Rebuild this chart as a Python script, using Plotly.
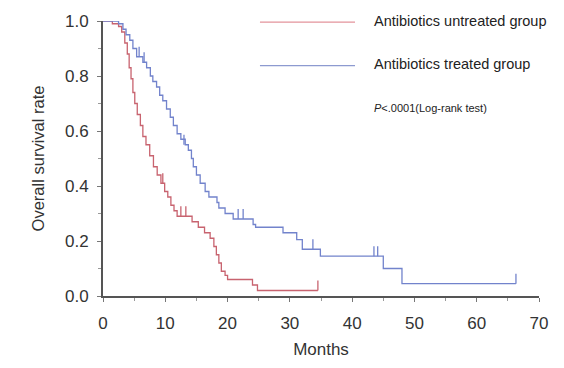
import plotly.graph_objects as go

# Kaplan-Meier step data (time in months, survival after each step)
untreated_t = [0, 1.5, 2.5, 3.0, 3.5, 3.9, 4.2, 4.5, 4.8, 5.1, 5.5, 6.0, 6.4, 6.9, 7.5,
               8.1, 8.7, 9.3, 9.9, 10.4, 10.9, 11.4, 11.9, 14.3, 15.3, 16.3, 17.2,
               17.8, 18.2, 18.6, 19.0, 19.6, 20.0, 24.0, 24.8, 34.5]
untreated_s = [1.0, 0.99, 0.98, 0.96, 0.92, 0.88, 0.83, 0.79, 0.74, 0.70, 0.66, 0.62,
               0.58, 0.55, 0.51, 0.47, 0.44, 0.41, 0.38, 0.36, 0.33, 0.31, 0.29, 0.27,
               0.25, 0.23, 0.21, 0.18, 0.15, 0.12, 0.09, 0.075, 0.06, 0.04, 0.02, 0.02]

treated_t = [0, 2.5, 3.2, 3.7, 4.3, 4.8, 5.4, 6.4, 7.0, 7.6, 8.0, 8.6, 9.1, 9.6, 10.2,
             10.8, 11.3, 11.9, 12.5, 13.2, 13.7, 14.2, 14.5, 15.0, 15.6, 16.4, 17.0,
             18.3, 18.6, 19.6, 20.9, 24.1, 24.5, 28.9, 31.1, 32.0, 34.9, 45.0, 48.0, 66.3]
treated_s = [1.0, 0.99, 0.97, 0.95, 0.93, 0.90, 0.87, 0.85, 0.83, 0.80, 0.78, 0.76, 0.73,
             0.71, 0.68, 0.65, 0.62, 0.59, 0.57, 0.55, 0.53, 0.50, 0.47, 0.44, 0.41, 0.38,
             0.36, 0.34, 0.32, 0.30, 0.28, 0.26, 0.25, 0.23, 0.205, 0.17, 0.145, 0.10,
             0.045, 0.045]

# Censored observations
untreated_cens_t = [9.6, 12.5, 13.3, 34.5]
untreated_cens_s = [0.41, 0.29, 0.29, 0.02]
treated_cens_t = [5.8, 6.6, 13.0, 21.7, 22.5, 33.7, 43.5, 44.1, 66.3]
treated_cens_s = [0.87, 0.85, 0.55, 0.28, 0.28, 0.17, 0.145, 0.145, 0.045]

x_ticks = [0, 10, 20, 30, 40, 50, 60, 70]
y_ticks = [0.0, 0.2, 0.4, 0.6, 0.8, 1.0]

RED = "#c8636f"
BLUE = "#7283cc"
CENS_H = 0.036

fig = go.Figure()
fig.add_trace(go.Scatter(x=untreated_t, y=untreated_s, mode="lines",
                         line=dict(color=RED, width=1.3, shape="hv"), showlegend=False))
fig.add_trace(go.Scatter(x=treated_t, y=treated_s, mode="lines",
                         line=dict(color=BLUE, width=1.3, shape="hv"), showlegend=False))
for ct, cs, col in [(untreated_cens_t, untreated_cens_s, RED),
                    (treated_cens_t, treated_cens_s, BLUE)]:
    fig.add_trace(go.Scatter(
        x=ct, y=cs, mode="markers",
        marker=dict(size=1, color="rgba(0,0,0,0)"),
        error_y=dict(type="data", symmetric=False, array=[CENS_H] * len(ct),
                     arrayminus=[0] * len(ct), width=0, thickness=1.3, color=col),
        showlegend=False, hoverinfo="skip"))

FONT = "Arial, Liberation Sans, sans-serif"

# Legend drawn manually (long sample lines as in the original)
fig.add_shape(type="line", xref="paper", yref="paper", x0=0.360, x1=0.578, y0=0.996, y1=0.996,
              line=dict(color="#e3939b", width=1.3))
fig.add_shape(type="line", xref="paper", yref="paper", x0=0.360, x1=0.578, y0=0.838, y1=0.838,
              line=dict(color="#8d9ad0", width=1.3))
fig.add_annotation(xref="paper", yref="paper", x=0.617, y=1.0, xanchor="left", yanchor="middle",
                   text="Antibiotics untreated group", showarrow=False,
                   font=dict(family=FONT, size=14.5, color="#222"))
fig.add_annotation(xref="paper", yref="paper", x=0.617, y=0.845, xanchor="left", yanchor="middle",
                   text="Antibiotics treated group", showarrow=False,
                   font=dict(family=FONT, size=14.5, color="#222"))
fig.add_annotation(xref="paper", yref="paper", x=0.617, y=0.683, xanchor="left", yanchor="middle",
                   text="<i>P</i><.0001(Log-rank test)", showarrow=False,
                   font=dict(family=FONT, size=11, color="#222"))

axis_common = dict(showgrid=False, zeroline=False, showline=True, linecolor="#555", linewidth=2,
                   ticks="outside", ticklen=4, tickwidth=1, tickcolor="#777",
                   tickfont=dict(family=FONT, size=17, color="#333"))

fig.update_layout(
    width=564, height=368,
    margin=dict(l=103, r=25, t=15, b=72),
    plot_bgcolor="white", paper_bgcolor="white",
    xaxis=dict(range=[0, 70], tickvals=x_ticks, ticklabelstandoff=7,
               minor=dict(dtick=5, ticks="outside", ticklen=3, tickcolor="#999"),
               title=dict(text="Months", font=dict(family=FONT, size=17, color="#333"), standoff=11),
               **axis_common),
    yaxis=dict(range=[0, 1.0], tickvals=y_ticks, tickformat=".1f", ticklabelstandoff=5,
               minor=dict(dtick=0.1, ticks="outside", ticklen=3, tickcolor="#999"),
               title=dict(text="Overall survival rate", font=dict(family=FONT, size=16.5, color="#333"),
                          standoff=16),
               **axis_common),
)

fig.write_html("out.html")
